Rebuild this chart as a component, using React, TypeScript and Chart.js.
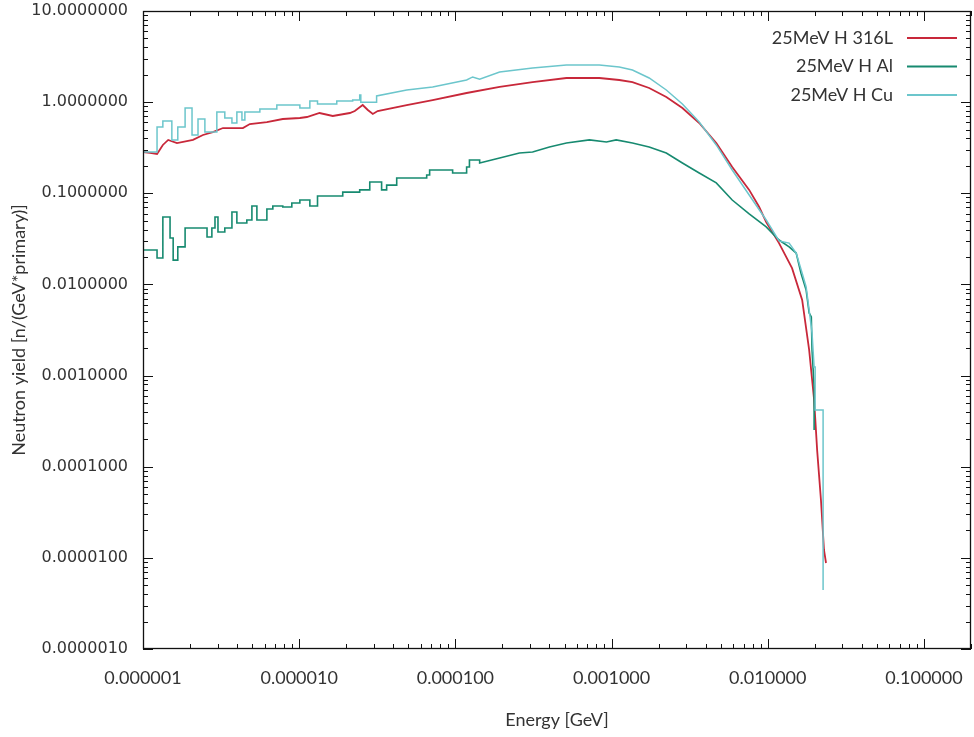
import React, { useEffect, useRef } from "react";
import { Chart, registerables } from "chart.js";

Chart.register(...registerables);

// ---- axes ----
const xMin = 1e-6;
const xMax = 0.2;
const yMin = 1e-6;
const yMax = 10;
const xTickValues = [1e-6, 1e-5, 1e-4, 1e-3, 1e-2, 1e-1];
const yTickValues = [1e-6, 1e-5, 1e-4, 1e-3, 1e-2, 1e-1, 1, 10];
const xTitle = "Energy [GeV]";
const yTitle = "Neutron yield [n/(GeV*primary)]";

// ---- series labels / colours ----
const seriesLabels = ["25MeV H 316L", "25MeV H Al", "25MeV H Cu"];
const seriesColors = ["#c8283a", "#178a70", "#6cc6cc"];

// ---- 25MeV H 316L (fine binning, read as a curve) ----
const energy316L = [
  1.0e-6, 1.11e-6, 1.23e-6, 1.34e-6, 1.45e-6, 1.65e-6, 2.09e-6, 2.42e-6, 2.8e-6, 3.25e-6,
  4.36e-6, 4.83e-6, 6.21e-6, 7.85e-6, 1.01e-5, 1.12e-5, 1.35e-5, 1.64e-5, 2.11e-5, 2.27e-5,
  2.55e-5, 2.75e-5, 2.96e-5, 3.18e-5, 4.88e-5, 7.15e-5, 1.18e-4, 1.92e-4, 3.12e-4, 5.14e-4,
  8.35e-4, 1.12e-3, 1.36e-3, 1.74e-3, 2.24e-3, 2.84e-3, 3.64e-3, 4.68e-3, 5.92e-3, 7.6e-3,
  8.81e-3, 9.77e-3, 1.18e-2, 1.43e-2, 1.66e-2, 1.84e-2, 1.98e-2, 2.07e-2, 2.19e-2, 2.29e-2,
  2.36e-2,
];
const yield316L = [
  0.284, 0.277, 0.27, 0.339, 0.385, 0.356, 0.385, 0.436, 0.47, 0.52,
  0.52, 0.575, 0.605, 0.653, 0.67, 0.687, 0.76, 0.705, 0.76, 0.799,
  0.93, 0.82, 0.741, 0.799, 0.93, 1.055, 1.26, 1.47, 1.66, 1.84,
  1.84, 1.75, 1.66, 1.43, 1.14, 0.863, 0.59, 0.356, 0.194, 0.109,
  0.0707, 0.0484, 0.0284, 0.0151, 0.00675, 0.00191, 5.4e-4, 1.52e-4, 4.31e-5, 1.22e-5,
  8.78e-6,
];

// ---- 25MeV H Al : coarse histogram bins at low energy, then fine bins ----
const alBinEdges = [
  1.0e-6, 1.23e-6, 1.34e-6, 1.49e-6, 1.56e-6, 1.67e-6, 1.86e-6, 2.57e-6, 2.76e-6, 2.89e-6,
  3.02e-6, 3.34e-6, 3.71e-6, 3.99e-6, 4.62e-6, 4.98e-6, 5.36e-6, 6.21e-6, 6.78e-6, 7.85e-6,
  8.97e-6, 1.01e-5, 1.17e-5, 1.31e-5, 1.9e-5, 2.44e-5, 2.83e-5, 3.37e-5, 3.63e-5, 4.21e-5,
  6.55e-5, 6.84e-5, 9.6e-5, 1.18e-4, 1.23e-4, 1.43e-4,
];
const alBinYields = [
  0.0239, 0.0195, 0.0549, 0.0323, 0.0185, 0.0258, 0.0416, 0.0331, 0.0416, 0.0549,
  0.0376, 0.0416, 0.0623, 0.0472, 0.0509, 0.0725, 0.0509, 0.0672, 0.0725, 0.0707,
  0.0782, 0.0844, 0.0725, 0.0934, 0.103, 0.109, 0.133, 0.109, 0.123, 0.147,
  0.159, 0.18, 0.167, 0.194, 0.232,
];
const alCurveEnergy = [
  1.43e-4, 1.92e-4, 2.57e-4, 3.12e-4, 4.0e-4, 5.14e-4, 7.21e-4, 9.27e-4, 1.07e-3, 1.36e-3,
  1.74e-3, 2.24e-3, 2.84e-3, 3.64e-3, 4.68e-3, 5.92e-3, 7.6e-3, 9.77e-3, 1.18e-2, 1.37e-2,
  1.52e-2, 1.63e-2, 1.76e-2, 1.84e-2, 1.9e-2, 1.92e-2, 1.98e-2, 1.98e-2,
];
const alCurveYield = [
  0.215, 0.244, 0.277, 0.284, 0.322, 0.356, 0.385, 0.366, 0.385, 0.356,
  0.322, 0.277, 0.215, 0.167, 0.13, 0.0844, 0.0593, 0.0427, 0.0307, 0.0258,
  0.0221, 0.0133, 0.00869, 0.00486, 0.00439, 0.00191, 7.5e-4, 2.53e-4,
];

// ---- 25MeV H Cu : coarse histogram bins at low energy, then fine bins ----
const cuBinEdges = [
  1.0e-6, 1.23e-6, 1.34e-6, 1.53e-6, 1.67e-6, 1.86e-6, 2.06e-6, 2.25e-6, 2.49e-6, 2.97e-6,
  3.34e-6, 3.71e-6, 3.99e-6, 4.3e-6, 4.49e-6, 5.6e-6, 7.19e-6, 1.01e-5, 1.17e-5, 1.31e-5,
  1.74e-5, 2.2e-5, 2.44e-5, 2.48e-5, 3.13e-5,
];
const cuBinYields = [
  0.284, 0.533, 0.621, 0.385, 0.533, 0.863, 0.436, 0.653, 0.47, 0.78,
  0.67, 0.59, 0.78, 0.637, 0.78, 0.841, 0.93, 0.863, 1.03, 0.954,
  1.03, 1.055, 1.2, 1.0,
];
const cuCurveEnergy = [
  3.13e-5, 4.88e-5, 7.15e-5, 1.18e-4, 1.29e-4, 1.43e-4, 1.92e-4, 3.12e-4, 5.14e-4, 8.35e-4,
  1.12e-3, 1.36e-3, 1.74e-3, 2.24e-3, 2.84e-3, 3.64e-3, 4.68e-3, 5.92e-3, 7.6e-3, 9.77e-3,
  1.18e-2, 1.37e-2, 1.52e-2, 1.66e-2, 1.76e-2, 1.84e-2, 1.92e-2, 1.98e-2, 2.01e-2, 2.01e-2,
  2.26e-2, 2.26e-2,
];
const cuCurveYield = [
  1.17, 1.36, 1.47, 1.75, 1.89, 1.79, 2.14, 2.37, 2.56, 2.56,
  2.43, 2.25, 1.84, 1.36, 0.954, 0.605, 0.339, 0.18, 0.0958, 0.0509,
  0.03, 0.0284, 0.0221, 0.0133, 0.00937, 0.00524, 0.00293, 0.00124, 0.00124, 4.19e-4,
  4.19e-4, 4.44e-6,
];

// ---- helpers building the point tables from the arrays ----
function histogramPoints(edges: number[], values: number[]) {
  const pts: { x: number; y: number }[] = [];
  values.forEach((v, i) => {
    pts.push({ x: edges[i], y: v });
    pts.push({ x: edges[i + 1], y: v });
  });
  return pts;
}
function curvePoints(es: number[], ys: number[]) {
  return es.map((e, i) => ({ x: e, y: ys[i] }));
}

const TEXT_COLOR = "#333333";
const SANS = "Lato, 'Open Sans', sans-serif";

const framePlugin = {
  id: "gnuplotFrame",
  afterDraw(chart: any) {
    const { ctx, chartArea } = chart;
    const { left, right, top, bottom } = chartArea;
    const xs = chart.scales.x;
    const ys = chart.scales.y;
    const logTicks = (min: number, max: number) => {
      const out: { v: number; major: boolean }[] = [];
      for (let e = Math.floor(Math.log10(min)); e <= Math.ceil(Math.log10(max)); e++) {
        for (let m = 1; m <= 9; m++) {
          const v = m * Math.pow(10, e);
          if (v >= min * 0.9999 && v <= max * 1.0001) out.push({ v, major: m === 1 });
        }
      }
      return out;
    };
    ctx.save();
    ctx.strokeStyle = "#111";
    ctx.lineWidth = 1;
    ctx.beginPath();
    for (const t of logTicks(xs.min, xs.max)) {
      const px = Math.round(xs.getPixelForValue(t.v)) + 0.5;
      const len = t.major ? 10 : 5;
      ctx.moveTo(px, bottom);
      ctx.lineTo(px, bottom - len);
      ctx.moveTo(px, top);
      ctx.lineTo(px, top + len);
    }
    for (const t of logTicks(ys.min, ys.max)) {
      const py = Math.round(ys.getPixelForValue(t.v)) + 0.5;
      const len = t.major ? 10 : 5;
      ctx.moveTo(left, py);
      ctx.lineTo(left + len, py);
      ctx.moveTo(right, py);
      ctx.lineTo(right - len, py);
    }
    ctx.stroke();
    ctx.lineWidth = 1.3;
    ctx.strokeRect(Math.round(left) + 0.5, Math.round(top) + 0.5, Math.round(right - left) - 1, Math.round(bottom - top) - 1);

    // legend (text on the left, line sample on the right, gnuplot style)
    ctx.font = `18px ${SANS}`;
    ctx.textAlign = "right";
    ctx.textBaseline = "middle";
    chart.data.datasets.forEach((ds: any, i: number) => {
      const yy = top + 27 + i * 28.5;
      ctx.fillStyle = TEXT_COLOR;
      ctx.fillText(ds.label, right - 78, yy);
      ctx.strokeStyle = ds.borderColor;
      ctx.lineWidth = 2;
      ctx.beginPath();
      ctx.moveTo(right - 64, yy);
      ctx.lineTo(right - 14, yy);
      ctx.stroke();
    });
    ctx.restore();
  },
};

export default function App() {
  const canvasRef = useRef<HTMLCanvasElement | null>(null);

  useEffect(() => {
    const canvas = canvasRef.current;
    if (!canvas) return;
    const chart = new Chart(canvas, {
      type: "line",
      data: {
        datasets: [
          {
            label: seriesLabels[0],
            data: curvePoints(energy316L, yield316L),
            borderColor: seriesColors[0],
            borderWidth: 1.8,
            pointRadius: 0,
            pointHoverRadius: 0,
            fill: false,
            tension: 0,
            order: 2,
          },
          {
            label: seriesLabels[1],
            data: [...histogramPoints(alBinEdges, alBinYields), ...curvePoints(alCurveEnergy, alCurveYield)],
            borderColor: seriesColors[1],
            borderWidth: 1.6,
            pointRadius: 0,
            pointHoverRadius: 0,
            fill: false,
            tension: 0,
            order: 1,
          },
          {
            label: seriesLabels[2],
            data: [...histogramPoints(cuBinEdges, cuBinYields), ...curvePoints(cuCurveEnergy, cuCurveYield)],
            borderColor: seriesColors[2],
            borderWidth: 1.5,
            pointRadius: 0,
            pointHoverRadius: 0,
            fill: false,
            tension: 0,
            order: 0,
          },
        ],
      },
      options: {
        responsive: false,
        animation: false,
        events: [],
        layout: { autoPadding: false, padding: { top: 11, right: 3, left: 0, bottom: 0 } },
        plugins: {
          legend: { display: false },
          tooltip: { enabled: false },
        },
        scales: {
          x: {
            type: "logarithmic",
            position: "bottom",
            min: xMin,
            max: xMax,
            grid: { display: false, drawTicks: false },
            border: { display: false },
            afterBuildTicks: (s: any) => {
              s.ticks = xTickValues.map((v) => ({ value: v }));
            },
            afterFit: (s: any) => {
              s.height = 88;
              s.paddingLeft = 0;
              s.paddingRight = 0;
              s.paddingTop = 0;
              s.paddingBottom = 0;
            },
            ticks: {
              autoSkip: false,
              maxRotation: 0,
              padding: 18,
              color: TEXT_COLOR,
              font: { family: SANS, size: 18 },
              callback: (v: any) => Number(v).toFixed(6),
            },
            title: {
              display: true,
              text: xTitle,
              color: TEXT_COLOR,
              font: { family: SANS, size: 18 },
              padding: { top: 0, bottom: 6 },
            },
          },
          y: {
            type: "logarithmic",
            position: "left",
            min: yMin,
            max: yMax,
            grid: { display: false, drawTicks: false },
            border: { display: false },
            afterBuildTicks: (s: any) => {
              s.ticks = yTickValues.map((v) => ({ value: v }));
            },
            afterFit: (s: any) => {
              s.width = 143;
              s.paddingLeft = 0;
              s.paddingRight = 0;
              s.paddingTop = 0;
              s.paddingBottom = 0;
            },
            ticks: {
              autoSkip: false,
              padding: 15,
              color: TEXT_COLOR,
              font: { family: "'DejaVu Sans', sans-serif", size: 16 },
              callback: (v: any) => Number(v).toFixed(7),
            },
            title: {
              display: true,
              text: yTitle,
              color: TEXT_COLOR,
              font: { family: SANS, size: 18 },
              padding: { top: 8, bottom: 0 },
            },
          },
        },
      },
      plugins: [framePlugin],
    });
    return () => chart.destroy();
  }, []);

  return (
    <div style={{ position: "absolute", left: 0, top: 0, width: 974, height: 737, background: "#fff" }}>
      <canvas ref={canvasRef} width={974} height={737} style={{ display: "block" }} />
    </div>
  );
}
